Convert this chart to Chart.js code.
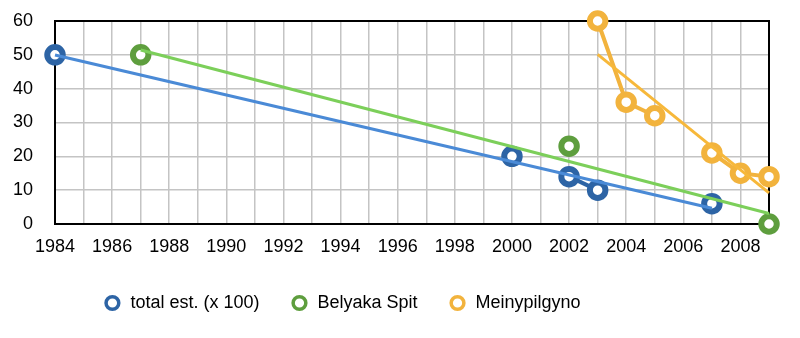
<!DOCTYPE html>
<html>
<head>
<meta charset="utf-8">
<script src="https://cdn.jsdelivr.net/npm/chart.js@4"></script>
<style>
  html, body { margin: 0; padding: 0; background: #fff; }
  #wrap { width: 800px; height: 338px; }
</style>
</head>
<body>
<div id="wrap"><canvas id="chart" width="800" height="338"></canvas></div>
<script>
// data
const totalYears = [1984, 2000, 2002, 2003, 2007];
const totalValues = [50, 20, 14, 10, 6];
const belyakaYears = [1987, 2002, 2009];
const belyakaValues = [50, 23, 0];
const meinyYears = [2003, 2004, 2005, 2007, 2008, 2009];
const meinyValues = [60, 36, 32, 21, 15, 14];
const xTickLabels = [1984, 1986, 1988, 1990, 1992, 1994, 1996, 1998, 2000, 2002, 2004, 2006, 2008];
const yTickLabels = [0, 10, 20, 30, 40, 50, 60];

// points, with a break where years are not consecutive
function toPoints(years, values) {
  const pts = [];
  years.forEach((yr, i) => {
    if (i > 0 && yr - years[i - 1] > 1) pts.push({ x: (yr + years[i - 1]) / 2, y: null });
    pts.push({ x: yr, y: values[i] });
  });
  return pts;
}

// linear trendline (least squares), from first to last year
function trend(years, values) {
  const n = years.length;
  const mx = years.reduce((a, b) => a + b, 0) / n;
  const my = values.reduce((a, b) => a + b, 0) / n;
  let sxy = 0, sxx = 0;
  years.forEach((x, i) => { sxy += (x - mx) * (values[i] - my); sxx += (x - mx) * (x - mx); });
  const k = sxy / sxx;
  const x0 = years[0], x1 = years[n - 1];
  return [{ x: x0, y: my + k * (x0 - mx) }, { x: x1, y: my + k * (x1 - mx) }];
}

function series(label, years, values, color) {
  return {
    label: label,
    data: toPoints(years, values),
    borderColor: color,
    backgroundColor: '#ffffff',
    borderWidth: 4,
    pointRadius: 7.75,
    pointBorderWidth: 6,
    pointBackgroundColor: '#ffffff',
    pointBorderColor: color,
    pointHoverRadius: 7.75,
    spanGaps: false,
    clip: false,
    order: 2
  };
}

function trendSet(years, values, color) {
  return {
    label: '',
    data: trend(years, values),
    borderColor: color,
    borderWidth: 3,
    pointRadius: 0,
    fill: false,
    clip: false,
    order: 1
  };
}

// frame around the plot area, and legend moved left like the original
const frame = {
  id: 'frame',
  afterLayout(chart) {
    const lg = chart.legend;
    lg.left = 0;
    lg.right = 684;
  },
  beforeDatasetsDraw(chart) {
    const a = chart.chartArea, ctx = chart.ctx;
    ctx.save();
    ctx.strokeStyle = '#000';
    ctx.lineWidth = 2;
    ctx.strokeRect(a.left, a.top, a.right - a.left, a.bottom - a.top);
    ctx.restore();
  }
};

const font = { family: 'Liberation Sans, Arial, sans-serif', size: 18 };

new Chart(document.getElementById('chart'), {
  type: 'line',
  data: {
    datasets: [
      series('total est. (x 100)', totalYears, totalValues, '#2d64a5'),
      series('Belyaka Spit', belyakaYears, belyakaValues, '#5e9e3e'),
      series('Meinypilgyno', meinyYears, meinyValues, '#f2b33d'),
      trendSet(totalYears, totalValues, '#4a8ad6'),
      trendSet(belyakaYears, belyakaValues, '#7ccf5a'),
      trendSet(meinyYears, meinyValues, '#f7b83a')
    ]
  },
  options: {
    responsive: false,
    animation: false,
    layout: { padding: { left: 0, right: 31, top: 21, bottom: 16 } },
    plugins: {
      tooltip: { enabled: false },
      legend: {
        position: 'bottom',
        labels: {
          usePointStyle: true,
          pointStyle: 'circle',
          boxWidth: 18,
          boxHeight: 9,
          padding: 31,
          color: '#000',
          font: font,
          generateLabels(chart) {
            const items = Chart.defaults.plugins.legend.labels.generateLabels(chart);
            return items.filter(it => it.text !== '').map(it => Object.assign(it, { lineWidth: 3.5, fillStyle: '#fff' }));
          }
        }
      }
    },
    scales: {
      x: {
        type: 'linear',
        min: 1984,
        max: 2009,
        afterBuildTicks(axis) {
          const t = [];
          for (let y = 1984; y <= 2009; y++) t.push({ value: y });
          axis.ticks = t;
        },
        afterFit(axis) { axis.height = 39; },
        ticks: {
          autoSkip: false,
          maxRotation: 0,
          color: '#000',
          font: font,
          padding: 12,
          callback: v => xTickLabels.includes(v) ? String(v) : ''
        },
        grid: { color: '#c4c4c4', lineWidth: 1.5, drawTicks: false },
        border: { color: '#000', width: 2 }
      },
      y: {
        min: 0,
        max: 60,
        afterBuildTicks(axis) { axis.ticks = yTickLabels.map(v => ({ value: v })); },
        afterFit(axis) {
          axis.width = 55;
          axis.paddingTop = 0;
          axis.paddingBottom = 0;
        },
        ticks: { color: '#000', font: font, padding: 22 },
        grid: { color: '#c4c4c4', lineWidth: 1.5, drawTicks: false },
        border: { color: '#000', width: 2 }
      }
    }
  },
  plugins: [frame]
});
</script>
</body>
</html>
